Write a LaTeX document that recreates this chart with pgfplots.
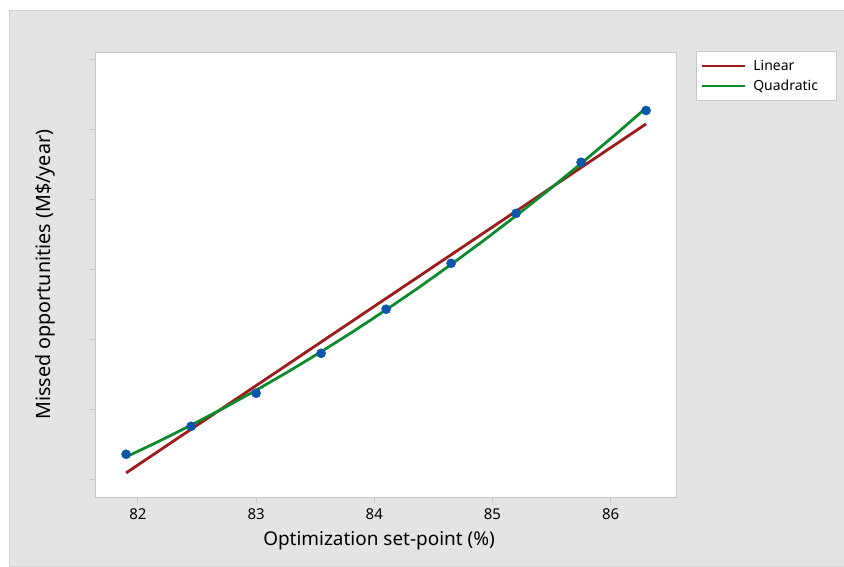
\documentclass[border=0pt]{standalone}
\usepackage{fontspec}
\setmainfont{Noto Sans}
\usepackage{pgfplots}
\pgfplotsset{compat=1.18}
\definecolor{bg}{HTML}{E4E4E4}
\definecolor{lin}{HTML}{9E1B1B}
\definecolor{quad}{HTML}{0E8A2E}
\definecolor{pts}{HTML}{0A56A8}
\definecolor{axc}{HTML}{C8C8C8}
\begin{document}
\begin{tikzpicture}[x=1pt,y=1pt]
\fill[white] (0,0) rectangle (844,568);
\fill[bg, draw=axc!80] (9,0) rectangle (846,558);
\useasboundingbox (0,0) rectangle (844,568);
\begin{axis}[at={(81,99)}, anchor=south west, scale only axis,
  width=582pt, height=446pt,
  xmin=81.643, xmax=86.555, ymin=-0.257, ymax=6.1,
  xtick={82,83,84,85,86}, ytick={0,1,2,3,4,5,6}, yticklabels={},
  xtick pos=left, ytick pos=left, tick align=outside,
  major tick length=6pt,
  axis line style={axc, line width=1.3pt},
  every tick/.style={axc, line width=1pt},
  axis background/.style={fill=white},
  /pgf/number format/assume math mode=true,
  x tick label style={font=\fontsize{15}{17}\selectfont, text=black, yshift=-2pt},
  xlabel={Optimization set-point (\%)},
  ylabel={Missed opportunities (M\$/year)},
  xlabel style={at={(axis description cs:0.488,0)}, anchor=north, yshift=-34pt, inner sep=0pt, font=\fontsize{19}{22}\selectfont},
  ylabel style={at={(axis description cs:-0.0875,0.5)}, anchor=center, inner sep=0pt, font=\fontsize{19.8}{22}\selectfont},
  legend style={at={(axis description cs:1.0344,1.004)}, anchor=north west, draw=axc, line width=1pt, fill=white,
    font=\fontsize{14}{16}\selectfont, inner xsep=4pt, inner ysep=7pt, row sep=4pt},
  legend cell align=left,
  legend image code/.code={\draw[#1] (0pt,0pt) -- (43pt,0pt); \path (48pt,0pt);},
]
\addplot[lin, line width=2.8pt] coordinates {(81.9,0.091) (86.3,5.078)};
\addlegendentry{\makebox[77pt][l]{Linear}}
\addplot[quad, line width=2.8pt] coordinates {
(81.9,0.320) (82.175,0.540) (82.45,0.772) (82.725,1.016) (83.0,1.272)
(83.275,1.541) (83.55,1.822) (83.825,2.115) (84.1,2.421) (84.375,2.738)
(84.65,3.069) (84.925,3.411) (85.2,3.766) (85.475,4.132) (85.75,4.512)
(86.025,4.903) (86.3,5.307)};
\addlegendentry{\makebox[77pt][l]{Quadratic}}
\addplot[only marks, mark=*, mark size=4.6pt, mark options={fill=pts, draw=pts}, forget plot] coordinates {
(81.9,0.357) (82.45,0.757) (83.0,1.229) (83.55,1.8) (84.1,2.43)
(84.65,3.086) (85.2,3.8) (85.75,4.53) (86.3,5.27)};
\end{axis}
\end{tikzpicture}
\end{document}
